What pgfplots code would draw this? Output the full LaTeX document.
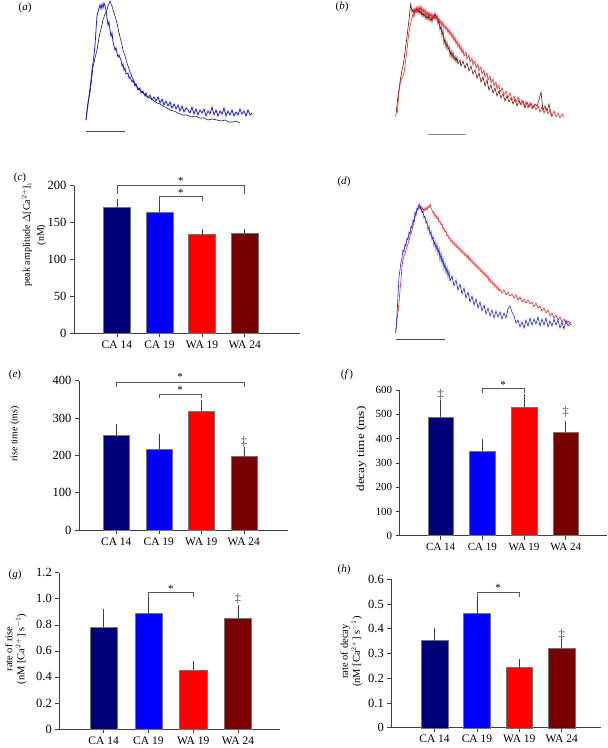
\documentclass[border=0pt]{standalone}
\usepackage{fontspec}
\setmainfont{Liberation Serif}
\usepackage{pgfplots}
\pgfplotsset{compat=1.18}
\definecolor{cnavy}{RGB}{0,0,120}
\definecolor{cblue}{RGB}{0,0,255}
\definecolor{cred}{RGB}{255,0,0}
\definecolor{cmaroon}{RGB}{120,0,0}
\definecolor{tnavy}{RGB}{20,20,110}
\definecolor{tblue}{RGB}{30,30,235}
\definecolor{tdred}{RGB}{110,10,10}
\definecolor{tred}{RGB}{235,30,30}
\newcommand{\lbl}{\fontsize{11}{12.5}\selectfont}
\newcommand{\ylb}{\fontsize{10.5}{12}\selectfont}
\newcommand{\tkl}{\fontsize{12.5}{14}\selectfont}
\newcommand{\xkl}{\fontsize{11.5}{13}\selectfont}
\newcommand{\dg}{\fontsize{13}{14}\selectfont}

\pgfplotsset{
  barax/.style={
    scale only axis, clip=false,
    axis x line*=bottom, axis y line*=left,
    axis line style={-, black!75, line width=0.6pt},
    tick style={black!75, line width=0.6pt},
    tick align=outside, major tick length=4pt,
    xtick={0,1,2,3}, xticklabels={CA 14,CA 19,WA 19,WA 24},
    ymin=0, ybar, bar shift=0pt,
    yticklabel style={font=\tkl},
    xticklabel style={font=\xkl},
    /pgf/number format/assume math mode=true,
  },
  bb/.style={draw=black!55, line width=0.4pt, fill=#1,
    error bars/.cd, y dir=plus, y explicit,
    error bar style={black!75, line width=0.6pt},
    error mark options={black!75, line width=0.6pt, mark size=3.5pt}},
  trace/.style={line width=0.6pt, no marks},
}

\begin{document}
\begin{tikzpicture}
\useasboundingbox (0,0) rectangle (608pt,748pt);

% ---------- traces and labels (pixel coordinates) ----------
\begin{axis}[scale only axis, width=608pt, height=748pt, at={(0pt,0pt)}, anchor=south west,
  xmin=0, xmax=608, ymin=0, ymax=748, y dir=reverse, hide axis, clip=false]
% (a)
\addplot[trace, tblue, line width=0.8pt] coordinates {
(86,120)(87,112)(88,105)(89,96)(90,88)(91,80)(92,70)(93,63)(94,55)(95,45)(96,30)(97,16)(98,12)(99,8)(100,5)
(101,9)(102,4)(103,8)(104,3)(105,6)(106,10)(107,18)(108,25)(109,22)(110,30)(111,36)(112,33)(113,42)(114,46)
(115,50)(116,48)(117,53)(118,57)(119,55)(120,58)(121,60)(122,66)(123,64)(124,70)(125,68)(126,74)(128,73)
(129,78)(130,77)(132,82)(133,80)(135,86)(136,84)(138,90)(140,88)(141,93)(143,91)(145,96)(146,93)(148,98)
(150,95)(152,100)(154,97)(156,101)(158,97)(160,103)(162,99)(164,105)(166,101)(168,106)(170,102)(172,108)
(174,104)(176,109)(178,105)(180,111)(182,106)(184,112)(186,108)(188,110)(190,113)(192,107)(194,114)(196,109)
(198,115)(200,110)(202,113)(204,109)(206,116)(208,111)(210,114)(212,107)(214,115)(216,110)(218,116)(220,111)
(222,114)(224,108)(226,116)(228,111)(230,115)(232,110)(234,116)(236,112)(238,115)(240,109)(242,114)(244,111)
(246,116)(248,110)(250,115)(252,113)};
\addplot[trace, tnavy] coordinates {
(86,120)(87,110)(88,102)(90,93)(91,85)(93,67)(95,58)(97,50)(99,38)(100,33)(102,25)(103,20)(105,14)(107,10)
(108,6)(110,1)(111,4)(112,6)(113,10)(115,16)(117,23)(118,28)(120,37)(122,45)(123,50)(125,56)(127,63)(129,69)
(132,77)(134,81)(136,85)(138,88)(140,90)(143,93)(146,96)(150,98)(153,100)(157,103)(160,104)(163,106)(167,108)
(170,110)(174,111)(178,113)(183,115)(187,115)(191,117)(195,116)(200,118)(204,118)(208,120)(212,119)(217,120)
(221,121)(225,120)(229,122)(233,122)(236,121)(240,123)};
\addplot[black!70, line width=0.9pt] coordinates {(86,131.7)(125,131.7)};
% (b)
\addplot[trace, tdred] coordinates {
(395.7,116.7)(397,105)(398,96)(399,90)(400,82)(401,76)(402,70)(403,66)(404,60)(405,52)(406,44)(407,37)(408,28)
(409,20)(410,10)(410.7,4)(412,12)(413,9)(414,14)(415,8)(416,12)(417,7)(418,13)(419,9)(420,14)(421,10)(422,16)
(423,12)(424,17)(425,13)(426,19)(427,15)(428,20)(429,14)(430,21)(431,17)(432,22)(433,15)(434,19)(435,13)(436,18)
(437,15)(438,24)(439,20)(440,30)(441,26)(442,36)(443,30)(444,44)(445,38)(446,48)(447,42)(448,50)(449,46)(450,56)
(451,50)(452,58)(453,52)(454,60)(455,56)(456,62)(457,57)(458,64)(460,60)(461,66)(463,61)(465,68)(467,63)(469,71)
(471,66)(473,74)(475,70)(477,78)(479,73)(481,82)(483,77)(485,86)(487,80)(489,90)(491,85)(493,93)(495,88)(497,96)
(499,91)(501,98)(503,94)(505,101)(507,96)(509,102)(511,98)(513,104)(515,99)(517,106)(519,100)(521,105)(523,101)
(525,108)(527,102)(529,107)(531,103)(533,108)(535,104)(537,106)(539,100)(541,92)(543,110)(545,106)(547,111)
(549,104)(551,115)(552.3,117)};
\addplot[trace, tred] coordinates {
(397.3,113)(398,104)(399,92)(400.7,80)(402,78)(403,76)(404,73)(405,66)(406,58)(407.3,47)(408,40)(409,32)
(410.7,23)(412,18)(413,14)(414,17)(415,10)(416,13)(417,8)(418,12)(419,6)(420,11)(421,6)(422,12)(423,8)(424,13)
(425,9)(426,15)(427,11)(428,16)(429,12)(430,17)(431,13)(432,18)(433,14)(434,19)(435,15)(436,20)(437,16)(438,21)
(439,18)(440,24)(441,20)(442,26)(443,22)(444,28)(445,25)(446,30)(447,27)(448,33)(449,29)(450,35)(451,32)(452,38)
(453,34)(454,41)(455,37)(456,44)(457,40)(458,47)(459,43)(460,50)(461,46)(462,53)(463,49)(464,56)(466,52)(467,59)
(469,55)(470,62)(472,58)(473,65)(475,61)(476,68)(478,64)(479,71)(481,67)(482,74)(484,70)(485,77)(487,73)(488,80)
(490,76)(491,83)(493,79)(494,86)(496,82)(497,89)(499,85)(500,92)(502,88)(504,95)(506,91)(508,98)(510,93)(512,100)
(514,96)(516,102)(518,97)(520,104)(522,100)(524,106)(526,102)(528,108)(530,103)(532,109)(534,105)(536,110)
(538,106)(540,112)(542,107)(544,113)(546,108)(548,114)(550,110)(552,116)(554,111)(556,117)(558,113)(560,118)
(562,114)(564,117)};
\addplot[black!45, line width=0.9pt] coordinates {(428.3,134)(466.3,134)};
% (d)
\addplot[trace, tred] coordinates {
(395.7,332.7)(397,320)(398,312)(399,303)(400,290)(401,280)(402,266)(403,260)(404,256)(405,254)(406,250)(407,247)
(408,244)(409,241)(410,236)(411,234)(412,230)(413,226)(414,222)(415,217)(416,214)(417,210)(418,208)(419,207)
(420,205)(421,209)(422,207)(423,211)(424,208)(425,211)(426,207)(427,210)(428,206)(429,208)(430,204)(431,208)
(432,210)(433,213)(434,212)(435,217)(436,215)(437,219)(438,217)(439,222)(440,221)(441,225)(442,224)(443,229)
(444,228)(445,232)(446,231)(447,236)(448,235)(449,239)(450,238)(451,242)(452,240)(453,244)(454,242)(455,246)
(456,244)(457,248)(458,246)(459,250)(460,248)(461,252)(462,250)(463,254)(464,252)(465,256)(466,254)(467,258)
(468,255)(469,260)(470,258)(471,262)(472,260)(473,264)(474,262)(475,266)(476,264)(477,268)(478,266)(479,270)
(480,268)(481,272)(482,270)(483,274)(484,272)(485,276)(486,274)(487,278)(488,276)(489,281)(490,279)(491,283)
(492,281)(493,285)(494,283)(495,287)(496,285)(497,289)(498,287)(499,291)(500,289)(502,293)(504,290)(506,295)
(508,292)(510,296)(512,294)(514,298)(516,295)(518,300)(520,297)(522,302)(524,299)(526,303)(528,300)(530,304)
(532,302)(534,307)(536,303)(538,308)(540,306)(542,311)(544,308)(546,313)(548,310)(550,316)(552,313)(554,318)
(556,315)(558,320)(560,317)(562,322)(564,319)(566,324)(568,321)(570.7,325)};
\addplot[trace, tblue] coordinates {
(395.7,332.7)(396.5,322)(397.3,310)(398,295)(399,277)(400,270)(401,262)(402,258)(403,250)(404,252)(405,244)
(406,246)(407,238)(408,240)(409,232)(410,234)(411,226)(412,228)(413,220)(414,222)(415,212)(416,215)(417,208)
(418,210)(419,204)(420,209)(421,207)(422,213)(423,211)(424,218)(425,216)(426,223)(427,221)(428,230)(429,226)
(430,235)(431,231)(432,240)(433,236)(434,246)(435,241)(436,250)(437,244)(438,254)(439,248)(440,260)(441,253)
(442,264)(443,258)(444,269)(445,263)(446,273)(447,267)(448,277)(449,271)(450,281)(452,276)(454,286)(456,280)
(458,290)(460,284)(462,294)(464,288)(466,298)(468,292)(470,302)(472,296)(474,305)(476,299)(478,308)(480,302)
(482,311)(484,305)(486,314)(488,308)(490,316)(492,310)(494,318)(496,311)(498,317)(500,312)(502,319)(504,313)
(506,318)(508,309)(510,306)(512,312)(514,316)(516,323)(518,320)(520,327)(522,322)(524,328)(526,320)(528,326)
(530,318)(532,325)(534,319)(536,324)(538,317)(540,326)(542,319)(544,325)(546,318)(548,327)(550,321)(552,326)
(554,319)(556,325)(558,320)(560,328)(562,322)(564,329)(566,320)(568,326)(570.7,322)};
\addplot[black!70, line width=0.9pt] coordinates {(395.7,339.3)(445,339.3)};
% panel letters
\node[font=\lbl] at (axis cs:25,8) {(\textit{a})};
\node[font=\lbl] at (axis cs:342,7) {(\textit{b})};
\node[font=\lbl] at (axis cs:20,178) {(\textit{c})};
\node[font=\lbl] at (axis cs:344,182) {(\textit{d})};
\node[font=\lbl] at (axis cs:15,375) {(\textit{e})};
\node[font=\lbl] at (axis cs:347,375) {(\textit{f\,})};
\node[font=\lbl] at (axis cs:15,575) {(\textit{g})};
\node[font=\lbl] at (axis cs:344,570) {(\textit{h})};
% y axis titles
\node[inner sep=0pt, anchor=center] at (axis cs:34.5,235) {\rotatebox{90}{\fontsize{10}{12}\selectfont
  \begin{tabular}{@{}c@{}}peak amplitude $\Delta$[Ca$^{2+}$]$_\mathrm{i}$\\[2pt](nM)\end{tabular}}};
\node[inner sep=0pt, anchor=center] at (axis cs:15,434) {\rotatebox{90}{\fontsize{10}{12}\selectfont rise time (ms)}};
\node[inner sep=0pt, anchor=center] at (axis cs:361.5,449) {\rotatebox{90}{\fontsize{11}{13}\selectfont
  \scalebox{1.2}[1]{decay time (ms)}}};
\node[inner sep=0pt, anchor=center] at (axis cs:16,649) {\rotatebox{90}{\ylb
  \begin{tabular}{@{}c@{}}rate of rise\\(nM [Ca$^{2+}$] s$^{-1}$)\end{tabular}}};
\node[inner sep=0pt, anchor=center] at (axis cs:351.5,651.5) {\rotatebox{90}{\ylb
  \begin{tabular}{@{}c@{}}rate of decay\\(nM [Ca$^{2+}$] s$^{-1}$)\end{tabular}}};
\end{axis}

% ---------- (c) peak amplitude ----------
\begin{axis}[barax, at={(74pt,414.7pt)}, anchor=south west,
  width=226pt, height=147.6pt, xmin=-1.007, xmax=4.3, ymax=200,
  ytick={0,50,100,150,200}, bar width=0.63]
\addplot[bb=cnavy] coordinates {(0,170.5) +- (0,7)};
\addplot[bb=cblue] coordinates {(1,164) +- (0,13)};
\addplot[bb=cred] coordinates {(2,134) +- (0,2.3)};
\addplot[bb=cmaroon] coordinates {(3,135) +- (0,2.2)};
\draw[black!65, line width=0.6pt] (axis cs:0,188.8) -- (axis cs:0,200) -- (axis cs:3,200) -- (axis cs:3,188.8);
\draw[black!65, line width=0.6pt] (axis cs:1,179.7) -- (axis cs:1,186) -- (axis cs:2,186) -- (axis cs:2,179.7);
\node[font=\lbl] at (axis cs:1.5,207) {*};
\node[font=\lbl] at (axis cs:1.5,190) {*};
\end{axis}

% ---------- (e) rise time ----------
\begin{axis}[barax, at={(79pt,218pt)}, anchor=south west,
  width=209pt, height=149.3pt, xmin=-0.878, xmax=4.04, ymax=400,
  ytick={0,100,200,300,400}, bar width=0.61]
\addplot[bb=cnavy] coordinates {(0,252.7) +- (0,21.3)};
\addplot[bb=cblue] coordinates {(1,217) +- (0,32)};
\addplot[bb=cred] coordinates {(2,318.8) +- (0,20.2)};
\addplot[bb=cmaroon] coordinates {(3,196.4) +- (0,16.1)};
\draw[black!65, line width=0.6pt] (axis cs:0,384) -- (axis cs:0,394.6) -- (axis cs:3,394.6) -- (axis cs:3,384);
\draw[black!65, line width=0.6pt] (axis cs:1,353.7) -- (axis cs:1,364.4) -- (axis cs:2,364.4) -- (axis cs:2,353.7);
\node[font=\lbl] at (axis cs:1.5,410) {*};
\node[font=\lbl] at (axis cs:1.5,375) {*};
\node[font=\dg, black!70] at (axis cs:3,236) {‡};
\end{axis}

% ---------- (f) decay time ----------
\begin{axis}[barax, at={(399.7pt,212.3pt)}, anchor=south west,
  width=207.3pt, height=145.7pt, xmin=-0.983, xmax=3.99, ymax=600,
  ytick={0,100,200,300,400,500,600}, bar width=0.61,
  yticklabel style={font=\fontsize{11}{13}\selectfont},
  xticklabel style={font=\fontsize{11}{13}\selectfont}]
\addplot[bb=cnavy] coordinates {(0,490) +- (0,55)};
\addplot[bb=cblue] coordinates {(1,348.7) +- (0,35.7)};
\addplot[bb=cred] coordinates {(2,530) +- (0,38)};
\addplot[bb=cmaroon] coordinates {(3,425.6) +- (0,33)};
\draw[black!65, line width=0.6pt] (axis cs:1,588.9) -- (axis cs:1,607) -- (axis cs:2,607) -- (axis cs:2,588.9);
\node[font=\lbl] at (axis cs:1.5,622) {*};
\node[font=\dg, black!70] at (axis cs:0,580) {‡};
\node[font=\dg, black!70] at (axis cs:3,509) {‡};
\end{axis}

% ---------- (g) rate of rise ----------
\begin{axis}[barax, at={(59.3pt,19pt)}, anchor=south west,
  width=220.7pt, height=156.3pt, xmin=-0.99, xmax=3.94, ymax=1.2,
  ytick={0,0.2,0.4,0.6,0.8,1.0,1.2}, yticklabels={0,0.2,0.4,0.6,0.8,1.0,1.2}, bar width=0.61]
\addplot[bb=cnavy] coordinates {(0,0.780) +- (0,0.116)};
\addplot[bb=cblue] coordinates {(1,0.888) +- (0,0.097)};
\addplot[bb=cred] coordinates {(2,0.455) +- (0,0.041)};
\addplot[bb=cmaroon] coordinates {(3,0.852) +- (0,0.072)};
\draw[black!65, line width=0.6pt] (axis cs:1,1.016) -- (axis cs:1,1.046) -- (axis cs:2,1.046) -- (axis cs:2,1.016);
\node[font=\lbl] at (axis cs:1.5,1.075) {*};
\node[font=\dg, black!70] at (axis cs:3,1.0) {‡};
\end{axis}

% ---------- (h) rate of decay ----------
\begin{axis}[barax, at={(391.3pt,20.3pt)}, anchor=south west,
  width=209.4pt, height=148.4pt, xmin=-1.02, xmax=3.92, ymax=0.6,
  ytick={0,0.1,0.2,0.3,0.4,0.5,0.6}, yticklabels={0,0.1,0.2,0.3,0.4,0.5,0.6}, bar width=0.63]
\addplot[bb=cnavy] coordinates {(0,0.352) +- (0,0.036)};
\addplot[bb=cblue] coordinates {(1,0.461) +- (0,0.053)};
\addplot[bb=cred] coordinates {(2,0.243) +- (0,0.021)};
\addplot[bb=cmaroon] coordinates {(3,0.322) +- (0,0.029)};
\draw[black!65, line width=0.6pt] (axis cs:1,0.530) -- (axis cs:1,0.549) -- (axis cs:2,0.549) -- (axis cs:2,0.530);
\node[font=\lbl] at (axis cs:1.5,0.566) {*};
\node[font=\dg, black!70] at (axis cs:3,0.377) {‡};
\end{axis}
\end{tikzpicture}
\end{document}
